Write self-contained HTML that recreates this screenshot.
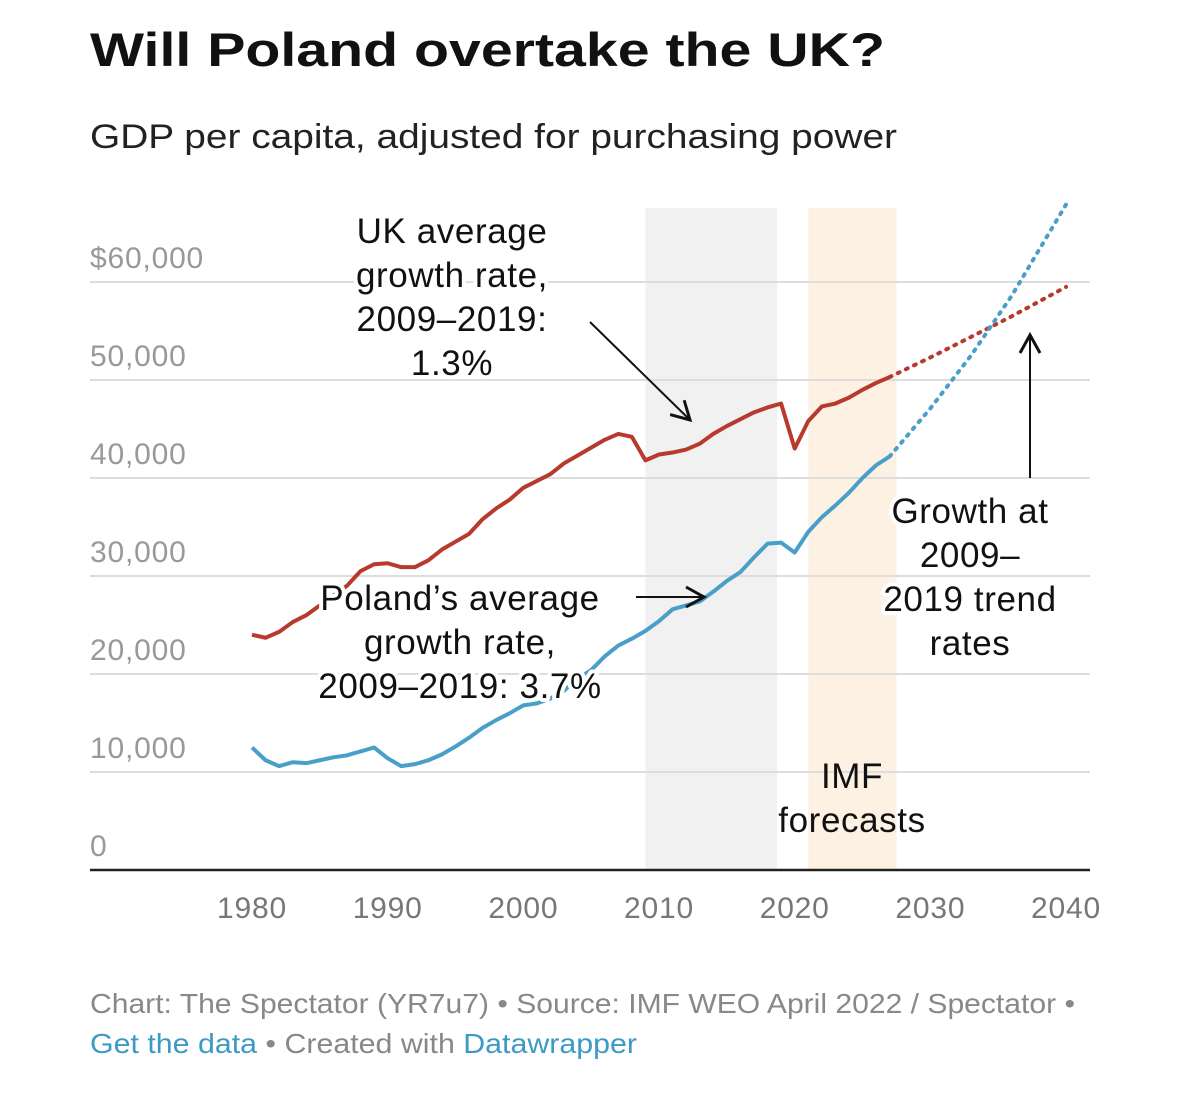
<!DOCTYPE html>
<html><head><meta charset="utf-8"><style>
body{margin:0;background:#fff;font-family:"Liberation Sans",sans-serif;}
svg text{font-family:"Liberation Sans",sans-serif;}
</style></head><body>
<svg width="1200" height="1096" viewBox="0 0 1200 1096">
<text x="90" y="66" font-size="47" font-weight="bold" fill="#111" textLength="795" lengthAdjust="spacingAndGlyphs">Will Poland overtake the UK?</text>
<text x="90" y="148" font-size="34" fill="#222" textLength="807" lengthAdjust="spacingAndGlyphs">GDP per capita, adjusted for purchasing power</text>
<g id="bands"></g><g id="grid"></g><g id="lines"></g><g id="ann"></g>
<text x="90" y="1013" font-size="28" fill="#888" textLength="985" lengthAdjust="spacingAndGlyphs">Chart: The Spectator (YR7u7) • Source: IMF WEO April 2022 / Spectator •</text>
<text x="90" y="1053" font-size="28" fill="#888" textLength="547" lengthAdjust="spacingAndGlyphs"><tspan fill="#3c9ac4">Get the data</tspan> • Created with <tspan fill="#3c9ac4">Datawrapper</tspan></text>
</svg>
<script>
const years=[1980,1981,1982,1983,1984,1985,1986,1987,1988,1989,1990,1991,1992,1993,1994,1995,1996,1997,1998,1999,2000,2001,2002,2003,2004,2005,2006,2007,2008,2009,2010,2011,2012,2013,2014,2015,2016,2017,2018,2019,2020,2021,2022,2023,2024,2025,2026,2027];
const ukValues=[24.0,23.7,24.3,25.3,26.0,27.0,28.0,29.0,30.5,31.2,31.3,30.9,30.9,31.6,32.7,33.5,34.3,35.8,36.9,37.8,39.0,39.7,40.4,41.5,42.3,43.1,43.9,44.5,44.2,41.8,42.4,42.6,42.9,43.5,44.5,45.3,46.0,46.7,47.2,47.6,43.0,45.8,47.3,47.6,48.2,49.0,49.7,50.3];
const plValues=[12.5,11.2,10.6,11.0,10.9,11.2,11.5,11.7,12.1,12.5,11.4,10.6,10.8,11.2,11.8,12.6,13.5,14.5,15.3,16.0,16.8,17.0,17.5,18.3,19.5,20.4,21.8,22.9,23.6,24.4,25.4,26.6,27.0,27.4,28.4,29.5,30.4,31.9,33.3,33.4,32.4,34.5,36.0,37.2,38.5,40.0,41.3,42.2];
const projYears=[2027,2030,2033,2036,2040];
const ukProj=[50.3,52.3,54.4,56.5,59.5];
const plProj=[42.2,47.1,52.5,58.6,67.9];
const yTicks=[0,10,20,30,40,50,60];
const yTickLabels=["0","10,000","20,000","30,000","40,000","50,000","$60,000"];
const xTicks=[1980,1990,2000,2010,2020,2030,2040];
const NS="http://www.w3.org/2000/svg";
const x=v=>252+(v-1980)*13.567;
const y=v=>870-v*9.8;
function mk(p,t,a){const e=document.createElementNS(NS,t);for(const k in a)e.setAttribute(k,a[k]);document.getElementById(p).appendChild(e);return e;}
let r=mk('bands','rect',{x:x(2009),y:208,width:x(2018.7)-x(2009),height:662,fill:'#f1f1f1'});


r=mk('bands','rect',{x:x(2021),y:208,width:x(2027.5)-x(2021),height:662,fill:'#fdf1e4'});


yTicks.forEach((t,i)=>{
 if(t>0){const l=mk('grid','line',{x1:90,x2:1090,y1:y(t),y2:y(t),stroke:'#ddd','stroke-width':2});
 
 }
 const tx=mk('grid','text',{x:90,y:y(t)-14,'font-size':30,fill:'#999','letter-spacing':0.8});tx.textContent=yTickLabels[i];
 
 
});
let ax=mk('grid','line',{x1:90,x2:1090,y1:870,y2:870,stroke:'#222','stroke-width':2.5});


xTicks.forEach(t=>{const tx=mk('grid','text',{x:x(t),y:918,'font-size':30,fill:'#777','text-anchor':'middle','letter-spacing':0.8});tx.textContent=t;
 
 });
function line(xs,vs,col,dash,name){const p=mk('lines','polyline',{points:xs.map((v,i)=>x(v)+','+y(vs[i])).join(' '),fill:'none',stroke:col,'stroke-width':4,'stroke-dasharray':dash?'2 7':'none','stroke-linecap':dash?'round':'butt','stroke-linejoin':'round'});
 
 }
line(years,ukValues,'#b83a2e',false,'uk-line');
line(years,plValues,'#4a9fc9',false,'poland-line');
line(projYears,ukProj,'#b83a2e',true,'uk-projection');
line(projYears,plProj,'#4a9fc9',true,'poland-projection');
const ann=document.getElementById('ann');
ann.innerHTML=`
<defs><marker id="ah" markerWidth="12" markerHeight="12" refX="10" refY="6" orient="auto"><path d="M1,1 L10,6 L1,11" fill="none" stroke="#111" stroke-width="1.5"/></marker></defs>
<g font-size="35" letter-spacing="0.6" fill="#111" text-anchor="middle" stroke="#fff" stroke-width="8" paint-order="stroke" stroke-linejoin="round">
<text x="452" y="243"><tspan x="452">UK average</tspan><tspan x="452" dy="44">growth rate,</tspan><tspan x="452" dy="44">2009–2019:</tspan><tspan x="452" dy="44">1.3%</tspan></text>
<text x="460" y="610"><tspan x="460">Poland’s average</tspan><tspan x="460" dy="44">growth rate,</tspan><tspan x="460" dy="44">2009–2019: 3.7%</tspan></text>
<text x="970" y="523"><tspan x="970">Growth at</tspan><tspan x="970" dy="44">2009–</tspan><tspan x="970" dy="44">2019 trend</tspan><tspan x="970" dy="44">rates</tspan></text>
<text x="852" y="788" stroke="none"><tspan x="852">IMF</tspan><tspan x="852" dy="44">forecasts</tspan></text>
</g>
<line x1="590" y1="322" x2="690" y2="420" stroke="#111" stroke-width="2" marker-end="url(#ah)"/>
<line x1="636" y1="597" x2="704" y2="597" stroke="#111" stroke-width="2" marker-end="url(#ah)"/>
<line x1="1030" y1="478" x2="1030" y2="335" stroke="#111" stroke-width="2" marker-end="url(#ah)"/>`;
</script>
</body></html>
